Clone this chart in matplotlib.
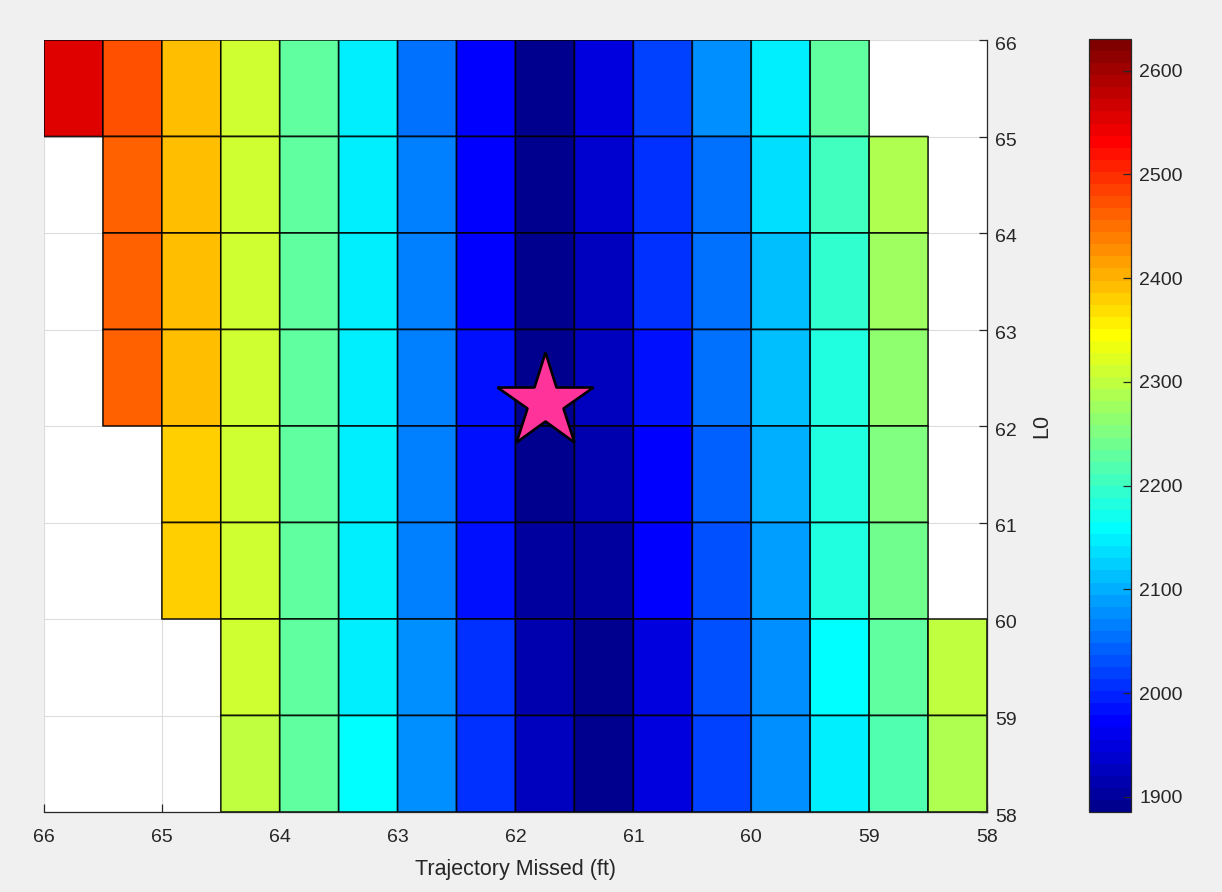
import numpy as np
import matplotlib
matplotlib.use("Agg")
import matplotlib.pyplot as plt
import matplotlib.transforms as mtransforms
from matplotlib.colors import ListedColormap

plt.rcParams['font.family'] = ['Liberation Sans', 'DejaVu Sans']

# ---- data ----
# cell edges along "Trajectory Missed (ft)" (left to right, axis reversed) and L0 (top to bottom)
traj_edges = [66, 65.5, 65, 64.5, 64, 63.5, 63, 62.5, 62, 61.5, 61, 60.5, 60, 59.5, 59, 58.5, 58]
l0_edges = [66, 65, 64, 63, 62, 61, 60, 59, 58]

nan = np.nan
row_L0_65_66 = [2554, 2473, 2391, 2310, 2229, 2147, 2054, 1973, 1891, 1944, 2019, 2077, 2147, 2229, nan, nan]
row_L0_64_65 = [nan, 2461, 2391, 2310, 2229, 2147, 2066, 1973, 1891, 1938, 2008, 2060, 2136, 2205, 2287, nan]
row_L0_63_64 = [nan, 2461, 2391, 2310, 2229, 2147, 2066, 1973, 1891, 1932, 2008, 2054, 2118, 2194, 2275, nan]
row_L0_62_63 = [nan, 2461, 2391, 2310, 2229, 2147, 2066, 1984, 1891, 1926, 1984, 2054, 2112, 2182, 2263, nan]
row_L0_61_62 = [nan, nan, 2380, 2310, 2229, 2147, 2066, 1984, 1891, 1915, 1973, 2048, 2101, 2182, 2252, nan]
row_L0_60_61 = [nan, nan, 2380, 2310, 2229, 2147, 2070, 1984, 1900, 1903, 1967, 2036, 2095, 2182, 2240, nan]
row_L0_59_60 = [nan, nan, nan, 2310, 2229, 2147, 2077, 2002, 1915, 1897, 1955, 2036, 2083, 2159, 2229, 2298]
row_L0_58_59 = [nan, nan, nan, 2298, 2229, 2159, 2077, 2008, 1926, 1891, 1955, 2019, 2077, 2147, 2217, 2287]

star_traj = [61.75]
star_l0 = [62.25]

x_ticks = [66, 65, 64, 63, 62, 61, 60, 59, 58]
y_ticks = [58, 59, 60, 61, 62, 63, 64, 65, 66]
cbar_ticks = [1900, 2000, 2100, 2200, 2300, 2400, 2500, 2600]
clim = (1885.5, 2630.5)


def matlab_jet(m=64):
    n = int(np.ceil(m / 4))
    u = np.concatenate([np.arange(1, n + 1) / n, np.ones(n - 1), np.arange(n, 0, -1) / n])
    g = int(np.ceil(n / 2)) - (1 if m % 4 == 1 else 0) + np.arange(1, len(u) + 1)
    r = g + n
    b = g - n
    J = np.zeros((m, 3))
    for ch, idxs in enumerate([r, g, b]):
        for idx, val in zip(idxs, u):
            if 1 <= idx <= m:
                J[idx - 1, ch] = val
    return ListedColormap(J)


Z = np.ma.masked_invalid(np.array([row_L0_65_66, row_L0_64_65, row_L0_63_64, row_L0_62_63,
                                   row_L0_61_62, row_L0_60_61, row_L0_59_60, row_L0_58_59], dtype=float))

W, H = 1222, 892
fig = plt.figure(figsize=(W / 100, H / 100), dpi=100, facecolor='#f0f0f0')
ax = fig.add_axes([44 / W, 1 - 812 / H, 943 / W, 772 / H])
ax.set_facecolor('white')

cmap = matlab_jet(64)
X, Y = np.meshgrid(traj_edges, l0_edges)
pc = ax.pcolor(X, Y, Z, cmap=cmap, vmin=clim[0], vmax=clim[1],
               edgecolors=(0, 0, 0, 0.85), linewidth=1.2, zorder=2)

ax.plot(star_traj, star_l0, marker='*', ms=72, mfc='#ff3399', mec='black', mew=1.9,
        linestyle='none', zorder=5, clip_on=False)

ax.set_xlim(66, 58)
ax.set_ylim(58, 66)
ax.set_xticks(x_ticks)
ax.set_yticks(y_ticks)
ax.yaxis.tick_right()
ax.yaxis.set_label_position('right')
ax.grid(True, color='#dcdcdc', linewidth=0.8, zorder=0)
ax.set_axisbelow(True)

for s in ['top', 'left']:
    ax.spines[s].set_visible(False)
for s in ['bottom', 'right']:
    ax.spines[s].set_color('#262626')
    ax.spines[s].set_linewidth(0.9)

tc = '#262626'
ax.tick_params(axis='x', direction='in', length=6, width=0.9, color=tc, labelcolor=tc,
               labelsize=14, pad=12.5, bottom=True, top=False)
ax.tick_params(axis='y', direction='in', length=6, width=0.9, color=tc, labelcolor=tc,
               labelsize=14, pad=6, right=True, left=False, labelright=True, labelleft=False)
shift_down = mtransforms.ScaledTranslation(0, -3 / 100, fig.dpi_scale_trans)
for tick in ax.yaxis.get_major_ticks():
    tick.label2.set_transform(tick.label2.get_transform() + shift_down)
ax.set_xlabel('Trajectory Missed (ft)', fontsize=15.5, color=tc, labelpad=9)
ax.set_ylabel('L0', fontsize=15.5, color=tc, labelpad=10, rotation=90)

cax = fig.add_axes([1089 / W, 1 - 812 / H, 42 / W, 773 / H])
cb = fig.colorbar(pc, cax=cax)
cb.set_ticks(cbar_ticks)
cb.outline.set_edgecolor('#262626')
cb.outline.set_linewidth(0.9)
cax.tick_params(direction='in', length=6, width=0.9, color=tc, labelcolor=tc, labelsize=14, pad=6)

fig.savefig('out.png', dpi=100, facecolor=fig.get_facecolor())
